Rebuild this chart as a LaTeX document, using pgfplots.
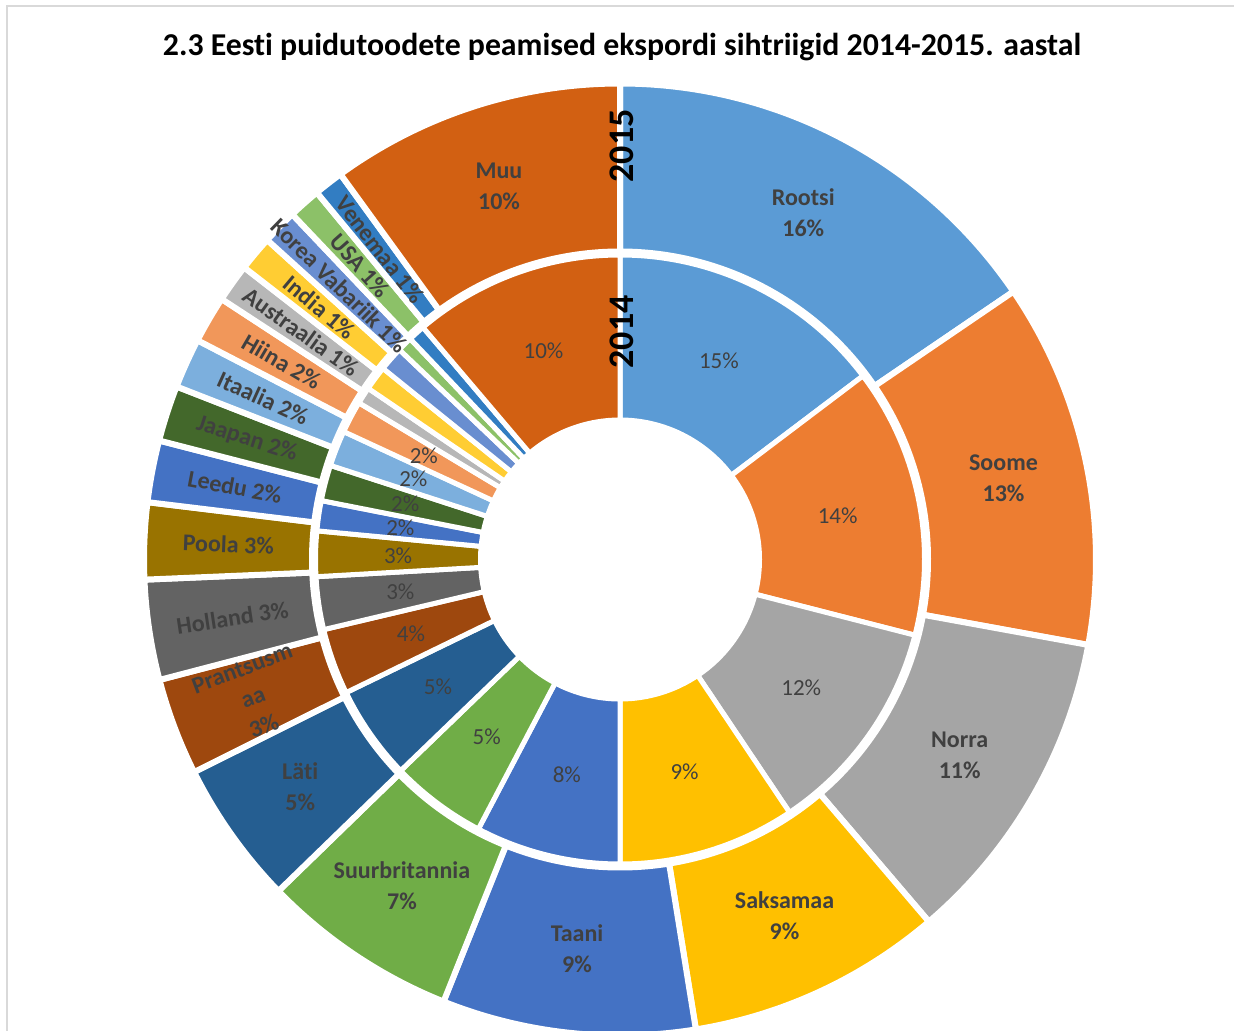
\documentclass[border=0pt]{standalone}
\usepackage{pgfplots}
\pgfplotsset{compat=1.18}
\usepackage{pgfplotstable}
\usepackage{fontspec}
\setmainfont{Carlito}[Ligatures=NoCommon]

\definecolor{c1}{HTML}{5B9BD5}
\definecolor{c2}{HTML}{ED7D31}
\definecolor{c3}{HTML}{A5A5A5}
\definecolor{c4}{HTML}{FFC000}
\definecolor{c5}{HTML}{4472C4}
\definecolor{c6}{HTML}{70AD47}
\definecolor{c7}{HTML}{255E91}
\definecolor{c8}{HTML}{9E480E}
\definecolor{c9}{HTML}{636363}
\definecolor{c10}{HTML}{997300}
\definecolor{c11}{HTML}{4472C4}
\definecolor{c12}{HTML}{43682B}
\definecolor{c13}{HTML}{7CAFDD}
\definecolor{c14}{HTML}{F1975A}
\definecolor{c15}{HTML}{B7B7B7}
\definecolor{c16}{HTML}{FFCD33}
\definecolor{c17}{HTML}{698ED0}
\definecolor{c18}{HTML}{8CC168}
\definecolor{c19}{HTML}{327DC2}
\definecolor{c20}{HTML}{D26012}
\definecolor{lab}{HTML}{404040}
\definecolor{frame}{HTML}{D9D9D9}

% shares in percent: v15 = 2015 (outer ring), v14 = 2014 (inner ring)
% pct = printed 2015 label, in14 = printed 2014 label (0 = none)
% style: 0 = horizontal, 1 = radial one line, 2 = radial wrapped
\pgfplotstableread[col sep=comma]{
name,pct,v15,v14,in14,style,col
Rootsi,16,15.5,14.7,15,0,c1
Soome,13,12.4,14.3,14,0,c2
Norra,11,10.9,11.6,12,0,c3
Saksamaa,9,8.7,9.4,9,0,c4
Taani,9,8.6,7.7,8,0,c5
Suurbritannia,7,6.7,5.1,5,0,c6
Läti,5,4.9,5.0,5,0,c7
Prantsusm\\aa,3,3.3,3.5,4,2,c8
Holland,3,3.4,2.8,3,1,c9
Poola,3,2.6,2.4,3,1,c10
Leedu,2,2.1,1.6,2,1,c11
Jaapan,2,1.9,1.9,2,1,c12
Itaalia,2,1.7,1.9,2,1,c13
Hiina,2,1.6,1.7,2,1,c14
Austraalia,1,1.3,0.9,0,1,c15
India,1,1.2,1.3,0,1,c16
Korea Vabariik,1,1.2,1.3,0,1,c17
USA,1,1.1,0.8,0,1,c18
Venemaa,1,1.0,0.9,0,1,c19
Muu,10,10.0,11.2,10,0,c20
}\shares

% ring radii (pt), centre of the doughnut in axis units (1 unit = 1pt)
\def\rOo{238pt}\def\rOi{154pt}
\def\rIo{152.25pt}\def\rIi{69.75pt}
\def\rOlab{196pt}\def\rIlab{111pt}

\pgfplotstablegetrowsof{\shares}
\pgfmathtruncatemacro\nrows{\pgfplotsretval-1}

% totals
\gdef\totA{0}\gdef\totB{0}
\foreach \i in {0,...,\nrows}{%
  \pgfplotstablegetelem{\i}{v15}\of\shares
  \pgfmathsetmacro\t{\totA+\pgfplotsretval}\xdef\totA{\t}%
  \pgfplotstablegetelem{\i}{v14}\of\shares
  \pgfmathsetmacro\t{\totB+\pgfplotsretval}\xdef\totB{\t}%
}

% build the wedge and label commands
\gdef\wedges{}\gdef\labels{}
\gdef\cumA{0}\gdef\cumB{0}
\foreach \i in {0,...,\nrows}{%
  \pgfplotstablegetelem{\i}{v15}\of\shares \let\va\pgfplotsretval
  \pgfplotstablegetelem{\i}{v14}\of\shares \let\vb\pgfplotsretval
  \pgfplotstablegetelem{\i}{col}\of\shares \let\cc\pgfplotsretval
  \pgfplotstablegetelem{\i}{name}\of\shares \let\nm\pgfplotsretval
  \pgfplotstablegetelem{\i}{pct}\of\shares \let\pc\pgfplotsretval
  \pgfplotstablegetelem{\i}{in14}\of\shares \let\pin\pgfplotsretval
  \pgfplotstablegetelem{\i}{style}\of\shares \let\st\pgfplotsretval
  \pgfmathsetmacro\sA{90-(\cumA/\totA)*360}%
  \pgfmathsetmacro\eA{90-((\cumA+\va)/\totA)*360}%
  \pgfmathsetmacro\mA{(\sA+\eA)/2}%
  \pgfmathsetmacro\rA{\mA+180}%
  \pgfmathsetmacro\sB{90-(\cumB/\totB)*360}%
  \pgfmathsetmacro\eB{90-((\cumB+\vb)/\totB)*360}%
  \pgfmathsetmacro\mB{(\sB+\eB)/2}%
  \pgfmathsetmacro\t{\cumA+\va}\xdef\cumA{\t}%
  \pgfmathsetmacro\t{\cumB+\vb}\xdef\cumB{\t}%
  \xdef\wedges{\unexpanded\expandafter{\wedges}%
    \noexpand\fill[fill=\cc, draw=white, line width=3pt]
      (\sA:\rOo) arc[start angle=\sA, end angle=\eA, radius=\rOo]
      -- (\eA:\rOi) arc[start angle=\eA, end angle=\sA, radius=\rOi] -- cycle;
    \noexpand\fill[fill=\cc, draw=white, line width=2.5pt]
      (\sB:\rIo) arc[start angle=\sB, end angle=\eB, radius=\rIo]
      -- (\eB:\rIi) arc[start angle=\eB, end angle=\sB, radius=\rIi] -- cycle;}%
  \ifnum\st=0
    \xdef\labels{\unexpanded\expandafter{\labels}%
      \noexpand\node[outlab, align=center] at (\mA:\rOlab)
        {\unexpanded\expandafter{\nm}\noexpand\\\pc\noexpand\%};}%
  \fi
  \ifnum\st=1
    \xdef\labels{\unexpanded\expandafter{\labels}%
      \noexpand\node[outlab, rotate=\rA] at (\mA:\rOlab)
        {\unexpanded\expandafter{\nm} \pc\noexpand\%};}%
  \fi
  \ifnum\st=2
    \xdef\labels{\unexpanded\expandafter{\labels}%
      \noexpand\node[outlab, align=center, rotate=\rA] at (\mA:\rOlab)
        {\unexpanded\expandafter{\nm}\noexpand\\\pc\noexpand\%};}%
  \fi
  \ifnum\pin>0
    \xdef\labels{\unexpanded\expandafter{\labels}%
      \noexpand\node[inlab] at (\mB:\rIlab) {\pin\noexpand\%};}%
  \fi
}

\begin{document}
\begin{tikzpicture}[
    outlab/.style={text=lab, inner sep=0pt, font=\fontsize{12}{15.5}\selectfont\bfseries},
    inlab/.style={text=lab, inner sep=0pt, font=\fontsize{11.5}{14}\selectfont}]
\begin{axis}[name=ax, hide axis, x=1pt, y=1pt,
    xmin=0, xmax=617, ymin=0, ymax=515]
  \draw[frame, line width=1pt] (axis cs:3.5,-20) -- (axis cs:3.5,512) -- (axis cs:640,512);
  \begin{scope}[shift={(axis cs:310,235.25)}]
    \wedges
    \labels
  \end{scope}
  \node[font=\fontsize{15.9}{19}\selectfont\bfseries] at (axis cs:311,491.5)
    {2.3 Eesti puidutoodete peamised ekspordi sihtriigid 2014-2015. aastal};
  \node[rotate=90, font=\fontsize{18}{20}\selectfont\bfseries] at (axis cs:311,442) {2015};
  \node[rotate=90, font=\fontsize{18}{20}\selectfont\bfseries] at (axis cs:311,349) {2014};
\end{axis}
\pgfresetboundingbox
\path[use as bounding box] (ax.south west) rectangle (ax.north east);
\end{tikzpicture}
\end{document}
